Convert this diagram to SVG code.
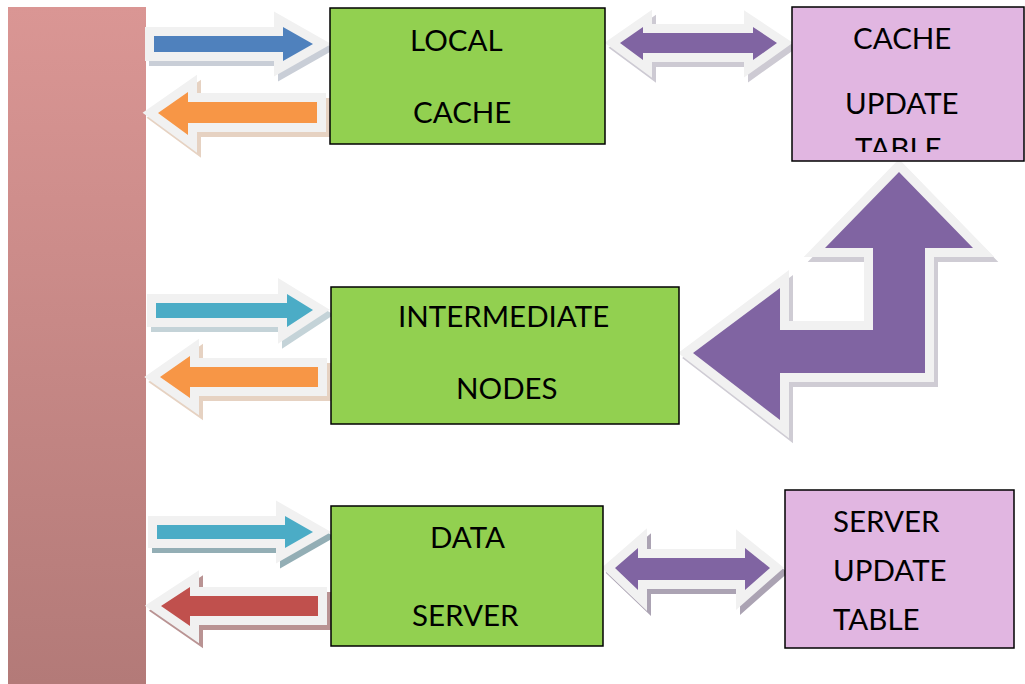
<svg xmlns="http://www.w3.org/2000/svg" width="1025" height="684" viewBox="0 0 1025 684">
<defs>
<linearGradient id="barg" x1="0" y1="0" x2="0" y2="1">
<stop offset="0" stop-color="#DA9694"/>
<stop offset="1" stop-color="#B37A78"/>
</linearGradient>
<clipPath id="cutTable"><rect x="792" y="7" width="233" height="145"/></clipPath>
</defs>
<style>
.green{fill:#92D050;stroke:#000;stroke-width:1.5}
.pink{fill:#E1B6E1;stroke:#000;stroke-width:1.5}
.lbl{font-family:Lato,"Open Sans",sans-serif;font-size:29.5px;fill:#000}
.rim{stroke:#F1F1F1;stroke-width:18;stroke-linejoin:miter;stroke-miterlimit:3;paint-order:stroke}
.sh{stroke-width:18;stroke-linejoin:miter;stroke-miterlimit:3}
</style>
<rect id="bar" x="8" y="7" width="138" height="677" fill="url(#barg)"/>
<g id="connectors">
<g id="a1r">
<path class="sh" transform="translate(4,5)" fill="#C9CED7" stroke="#C9CED7" d="M154,36 H283 V27 L313,44 L283,61 V52 H154 Z"/>
<path class="rim" fill="#4F81BD" d="M154,36 H283 V27 L313,44 L283,61 V52 H154 Z"/>
</g>
<g id="a1l">
<path class="sh" transform="translate(4,5)" fill="#E6D2C2" stroke="#E6D2C2" d="M317,102 H188 V92 L158,113 L188,135 V123 H317 Z"/>
<path class="rim" fill="#F79646" d="M317,102 H188 V92 L158,113 L188,135 V123 H317 Z"/>
</g>
<g id="a2r">
<path class="sh" transform="translate(4,5)" fill="#C4D3D8" stroke="#C4D3D8" d="M156,303 H287 V294 L313,310 L287,327 V318 H156 Z"/>
<path class="rim" fill="#4BACC6" d="M156,303 H287 V294 L313,310 L287,327 V318 H156 Z"/>
</g>
<g id="a2l">
<path class="sh" transform="translate(4,5)" fill="#E6D2C2" stroke="#E6D2C2" d="M318,367 H190 V356 L160,377 L190,398 V387 H318 Z"/>
<path class="rim" fill="#F79646" d="M318,367 H190 V356 L160,377 L190,398 V387 H318 Z"/>
</g>
<g id="a3r">
<path class="sh" transform="translate(4,5)" fill="#93AEB5" stroke="#93AEB5" d="M157,525 H285 V516 L313,532 L285,548 V539 H157 Z"/>
<path class="rim" fill="#4BACC6" d="M157,525 H285 V516 L313,532 L285,548 V539 H157 Z"/>
</g>
<g id="a3l">
<path class="sh" transform="translate(4,5)" fill="#B99393" stroke="#B99393" d="M318,596 H190 V587 L161,606 L190,626 V616 H318 Z"/>
<path class="rim" fill="#C0504D" d="M318,596 H190 V587 L161,606 L190,626 V616 H318 Z"/>
</g>
<g id="p1">
<path class="sh" transform="translate(4,5)" fill="#CDCAD3" stroke="#CDCAD3" d="M620,43 L643,27 V33 H753 V27 L777,43 L753,60 V53 H643 V60 Z"/>
<path class="rim" fill="#8064A2" d="M620,43 L643,27 V33 H753 V27 L777,43 L753,60 V53 H643 V60 Z"/>
</g>
<g id="p3">
<path class="sh" transform="translate(4,5)" fill="#ABA3B3" stroke="#ABA3B3" d="M615,568 L638,548 V558 H745 V548 L770,568 L745,590 V580 H638 V590 Z"/>
<path class="rim" fill="#8064A2" d="M615,568 L638,548 V558 H745 V548 L770,568 L745,590 V580 H638 V590 Z"/>
</g>
<g id="bent">
<path class="sh" transform="translate(4,5)" fill="#CFCCD4" stroke="#CFCCD4" d="M899,172 L973,248 H925 V373 H780 V420 L693,353 L780,288 V330 H873 V248 H825 Z"/>
<path class="rim" fill="#8064A2" d="M899,172 L973,248 H925 V373 H780 V420 L693,353 L780,288 V330 H873 V248 H825 Z"/>
</g>
</g>
<g id="local-cache">
<rect class="green" x="330" y="8" width="275" height="136"/>
<text class="lbl" x="410" y="51">LOCAL</text>
<text class="lbl" x="413" y="123">CACHE</text>
</g>
<g id="cache-update-table">
<rect class="pink" x="792" y="7" width="232" height="154"/>
<text class="lbl" x="853" y="49">CACHE</text>
<text class="lbl" x="845" y="114">UPDATE</text>
<text class="lbl" x="855" y="159" clip-path="url(#cutTable)">TABLE</text>
</g>
<g id="intermediate-nodes">
<rect class="green" x="331" y="287" width="348" height="137"/>
<text class="lbl" x="398" y="327">INTERMEDIATE</text>
<text class="lbl" x="456" y="399">NODES</text>
</g>
<g id="data-server">
<rect class="green" x="331" y="506" width="272" height="140"/>
<text class="lbl" x="430" y="548">DATA</text>
<text class="lbl" x="412" y="626">SERVER</text>
</g>
<g id="server-update-table">
<rect class="pink" x="785" y="490" width="229" height="158"/>
<text class="lbl" x="833" y="532">SERVER</text>
<text class="lbl" x="833" y="581">UPDATE</text>
<text class="lbl" x="833" y="630">TABLE</text>
</g>
</svg>
